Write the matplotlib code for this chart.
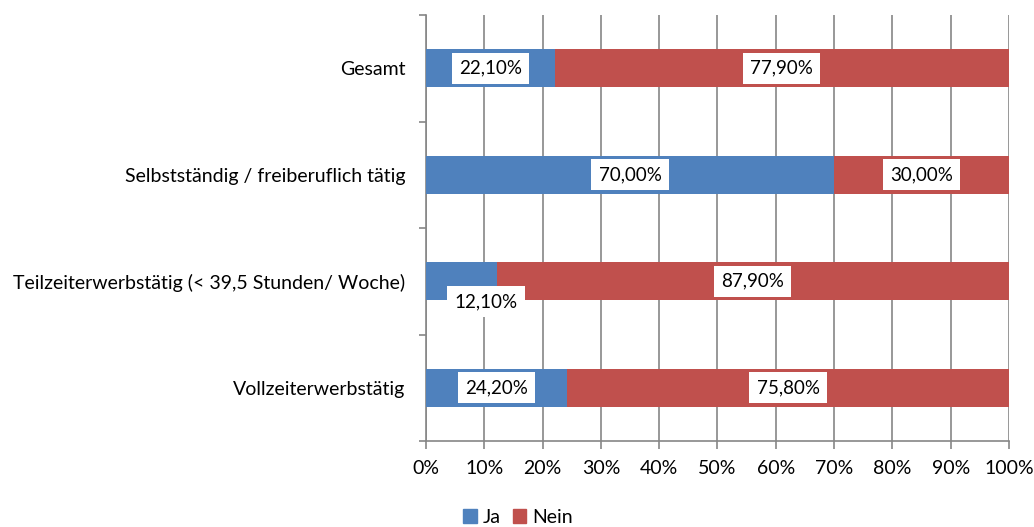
import matplotlib
matplotlib.use("Agg")
import matplotlib.pyplot as plt
from matplotlib.patches import Patch

plt.rcParams['font.family'] = ['Lato', 'DejaVu Sans']

categories = ["Gesamt", "Selbstständig / freiberuflich tätig",
              "Teilzeiterwerbstätig (< 39,5 Stunden/ Woche)", "Vollzeiterwerbstätig"]
ja = [22.1, 70.0, 12.1, 24.2]
nein = [77.9, 30.0, 87.9, 75.8]
ja_labels = ["22,10%", "70,00%", "12,10%", "24,20%"]
nein_labels = ["77,90%", "30,00%", "87,90%", "75,80%"]
xticks = [0, 10, 20, 30, 40, 50, 60, 70, 80, 90, 100]
xticklabels = [f"{v}%" for v in xticks]

BLUE = "#4F81BD"
RED = "#C0504D"
GRID = "#868686"
FS = 14

fig = plt.figure(figsize=(10.34, 5.27), dpi=100)
ax = fig.add_axes([0.412, 0.1632, 0.5638, 0.8083])

ypos = [i + 0.5 for i in range(len(categories))]
h = 0.357
ax.barh(ypos, ja, height=h, color=BLUE, zorder=3)
ax.barh(ypos, nein, left=ja, height=h, color=RED, zorder=3)

bbox = dict(boxstyle="square,pad=0.38", facecolor="white", edgecolor="none")
for i, y in enumerate(ypos):
    jx = ja[i] / 2
    jy = y
    if i == 2:
        jx = 10.3
        jy = y + 0.19
    ax.text(jx, jy, ja_labels[i], ha="center", va="center", fontsize=13.5,
            bbox=bbox, zorder=5)
    ax.text(ja[i] + nein[i] / 2, y, nein_labels[i], ha="center", va="center",
            fontsize=13.5, bbox=bbox, zorder=5)

ax.set_xlim(0, 100)
ax.set_ylim(len(categories), 0)
ax.set_xticks(xticks)
ax.set_xticklabels(xticklabels, fontsize=FS)
ax.set_yticks(range(len(categories) + 1))
ax.set_yticklabels([])
ax.set_yticks(ypos, minor=True)
ax.set_yticklabels(categories, minor=True, fontsize=FS)
ax.tick_params(axis="y", which="minor", length=0, pad=15)
ax.tick_params(axis="y", which="major", length=5, color=GRID, width=1.2)
ax.tick_params(axis="x", length=6, color=GRID, width=1.2, pad=8)
ax.grid(axis="x", color=GRID, linewidth=1.2, zorder=0)
for s in ["top", "right"]:
    ax.spines[s].set_visible(False)
for s in ["left", "bottom"]:
    ax.spines[s].set_color(GRID)
    ax.spines[s].set_linewidth(1.2)

handles = [Patch(color=BLUE, label="Ja"), Patch(color=RED, label="Nein")]
fig.legend(handles=handles, loc="center", bbox_to_anchor=(0.501, 0.018), ncol=2,
           frameon=False, fontsize=FS, handlelength=0.7, handleheight=0.7,
           handletextpad=0.3, columnspacing=0.6)

fig.savefig("out.png", dpi=100)
